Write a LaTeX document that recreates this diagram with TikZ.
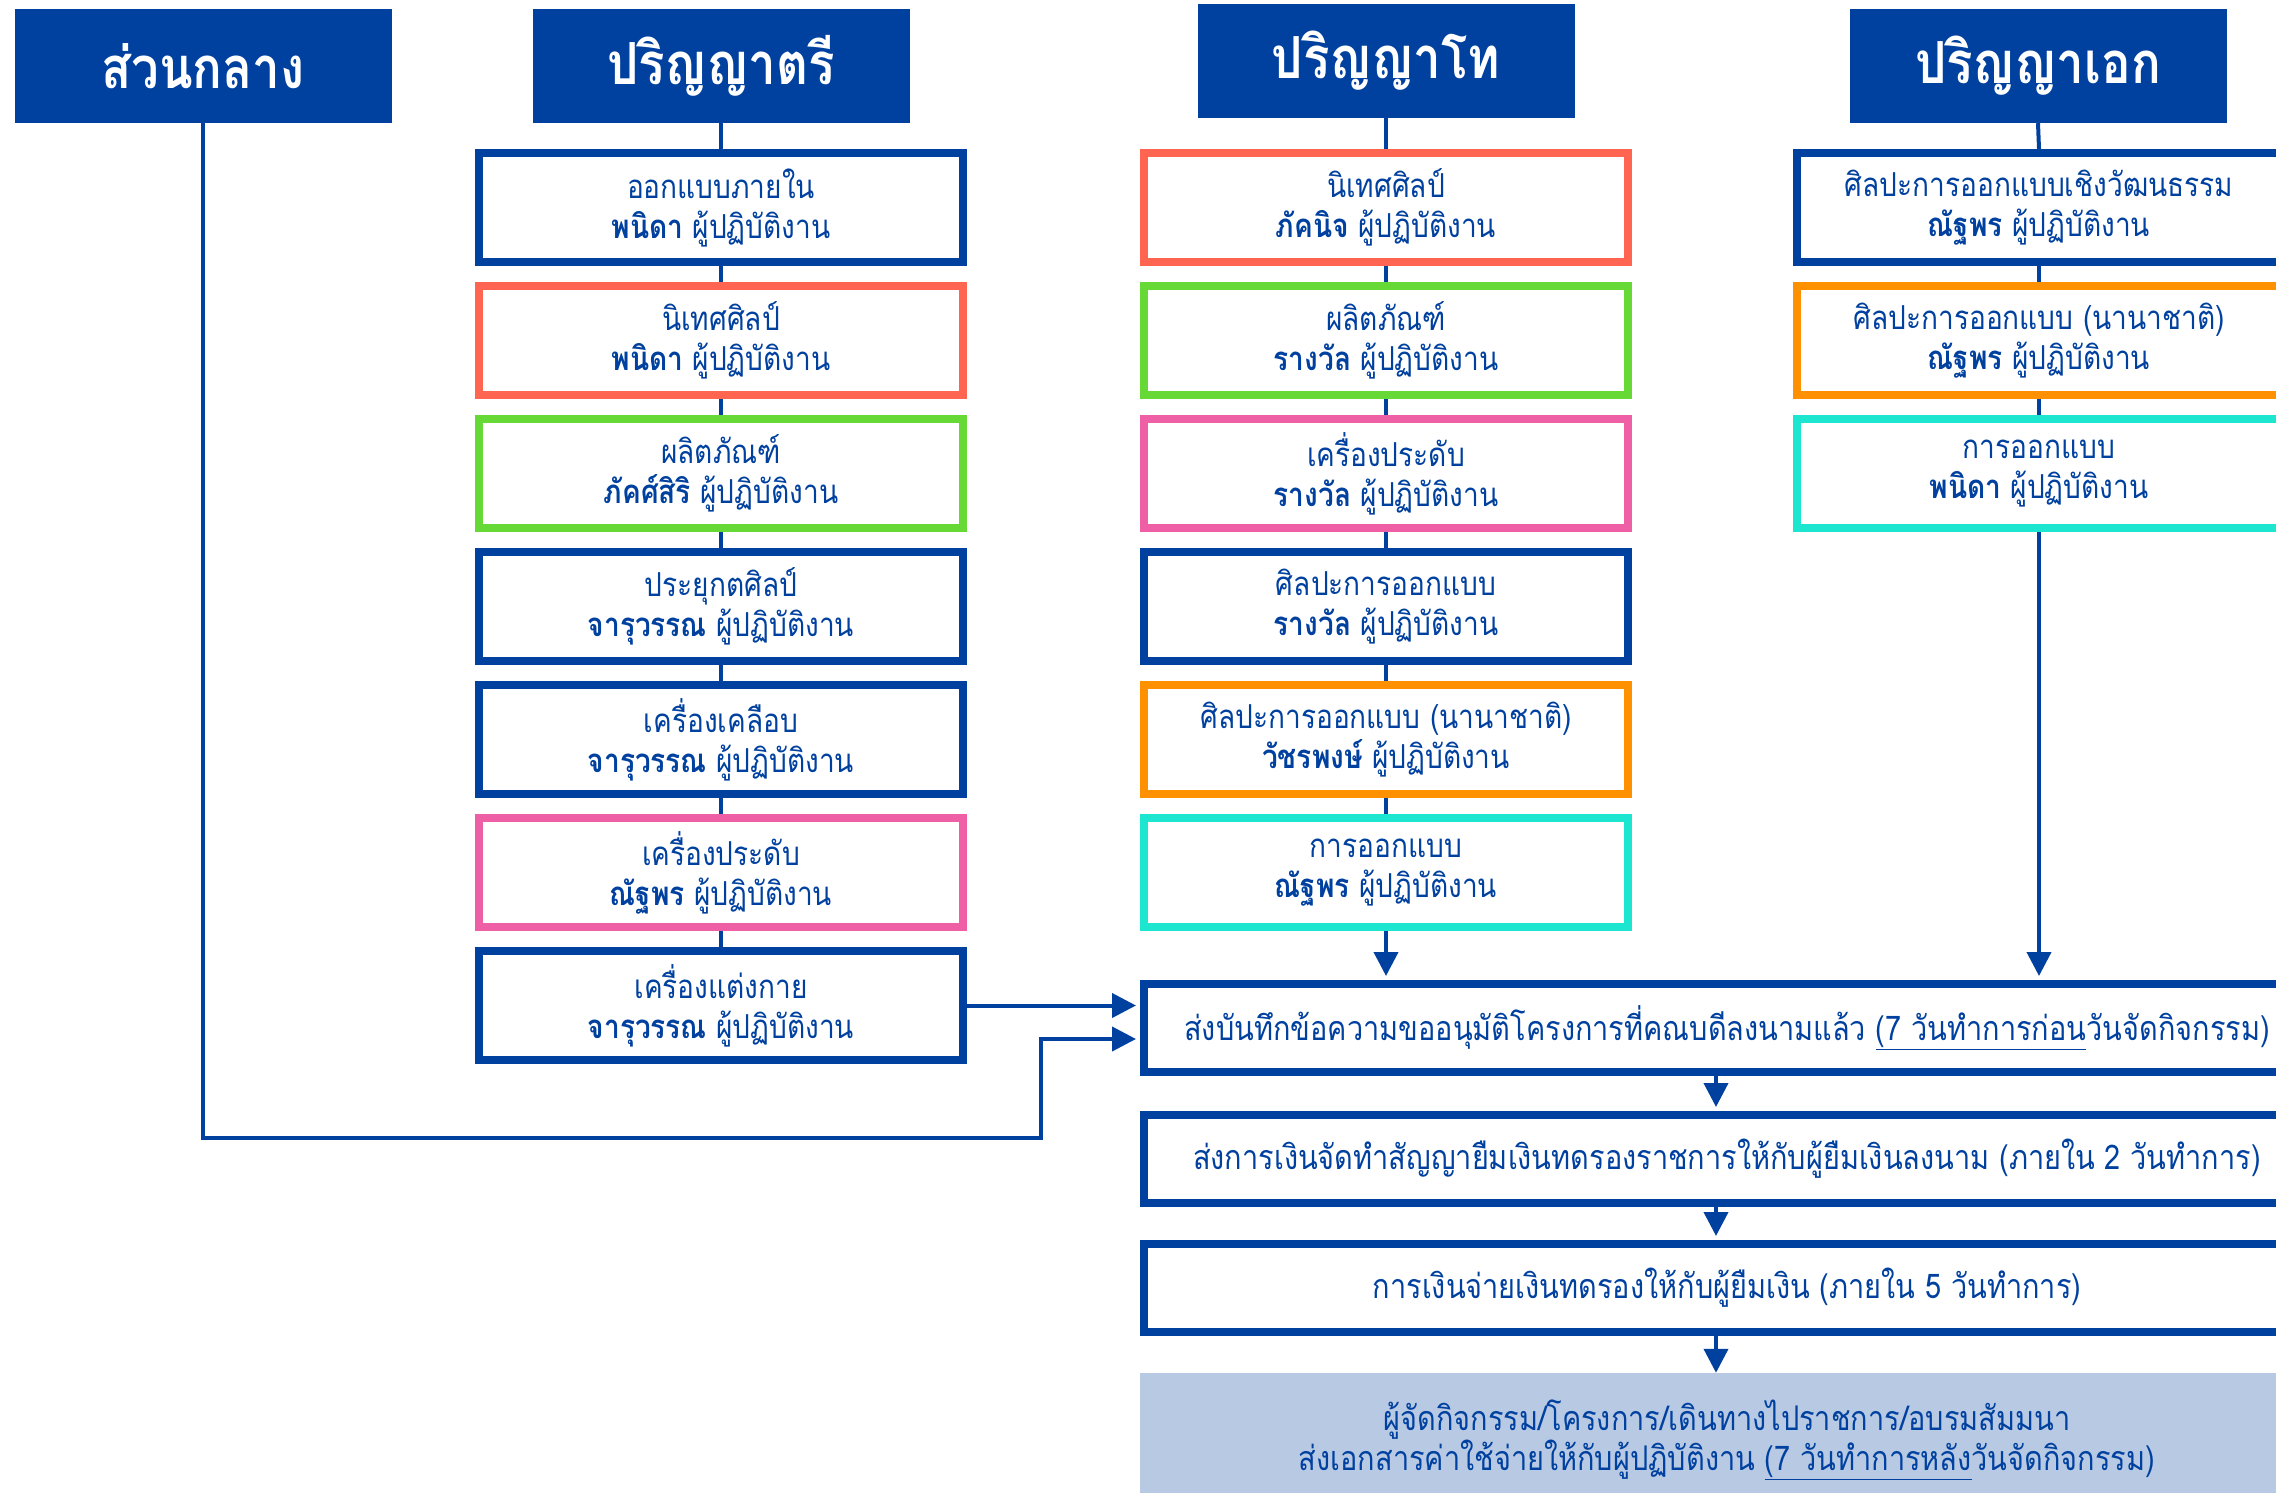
\documentclass[tikz,border=0pt]{standalone}
\usepackage{fontspec}
\setmainfont[Script=Thai,FakeStretch=0.85]{Loma}
\usetikzlibrary{arrows.meta,backgrounds}
\definecolor{navy}{HTML}{0041A0}
\definecolor{coral}{HTML}{FF6550}
\definecolor{lgreen}{HTML}{66D936}
\definecolor{pinkc}{HTML}{EE5FA5}
\definecolor{orangec}{HTML}{FF9100}
\definecolor{cyanc}{HTML}{1CE6D0}
\definecolor{paleblue}{HTML}{B8C9E4}
\tikzset{
  hdr/.style={fill=navy,text=white,minimum width=377pt,minimum height=114pt,inner sep=0pt,
    font=\bfseries\fontsize{58}{64}\selectfont},
  unit/.style={draw=#1,line width=8pt,fill=white,text=navy,minimum width=484pt,minimum height=109pt,
    inner sep=0pt,align=center,font=\fontsize{33}{40}\selectfont},
  proc/.style={draw=navy,line width=8pt,fill=white,text=navy,minimum width=1166pt,minimum height=88pt,
    inner sep=0pt,align=center,font=\fontsize{34}{40}\selectfont},
  final/.style={fill=paleblue,text=navy,minimum width=1174pt,minimum height=134pt,
    inner sep=0pt,align=center,font=\fontsize{34}{40}\selectfont},
  conn/.style={navy,line width=4pt},
  arr/.style={navy,line width=4pt,-{Triangle[length=24pt,width=24pt]}},
}
\begin{document}
\begin{tikzpicture}[x=1pt,y=-1pt]
\clip (0,0) rectangle (2276,1493);
% headers
\node[hdr] (hc) at (203,66) {ส่วนกลาง};
\node[hdr] (ht) at (721,66) {ปริญญาตรี};
\node[hdr] (hm) at (1386,61) {ปริญญาโท};
\node[hdr] (he) at (2038,66) {ปริญญาเอก};
% bachelor column
\node[unit=navy]    (t1) at (721,207.5) {ออกแบบภายใน\\\textbf{พนิดา} ผู้ปฏิบัติงาน};
\node[unit=coral]   (t2) at (721,340.5) {นิเทศศิลป์\\\textbf{พนิดา} ผู้ปฏิบัติงาน};
\node[unit=lgreen]  (t3) at (721,473.5) {ผลิตภัณฑ์\\\textbf{ภัคศ์สิริ} ผู้ปฏิบัติงาน};
\node[unit=navy]    (t4) at (721,606.5) {ประยุกตศิลป์\\\textbf{จารุวรรณ} ผู้ปฏิบัติงาน};
\node[unit=navy]    (t5) at (721,739.5) {เครื่องเคลือบ\\\textbf{จารุวรรณ} ผู้ปฏิบัติงาน};
\node[unit=pinkc]   (t6) at (721,872.5) {เครื่องประดับ\\\textbf{ณัฐพร} ผู้ปฏิบัติงาน};
\node[unit=navy]    (t7) at (721,1005.5) {เครื่องแต่งกาย\\\textbf{จารุวรรณ} ผู้ปฏิบัติงาน};
% master column
\node[unit=coral]   (m1) at (1386,207.5) {นิเทศศิลป์\\\textbf{ภัคนิจ} ผู้ปฏิบัติงาน};
\node[unit=lgreen]  (m2) at (1386,340.5) {ผลิตภัณฑ์\\\textbf{รางวัล} ผู้ปฏิบัติงาน};
\node[unit=pinkc]   (m3) at (1386,473.5) {เครื่องประดับ\\\textbf{รางวัล} ผู้ปฏิบัติงาน};
\node[unit=navy]    (m4) at (1386,606.5) {ศิลปะการออกแบบ\\\textbf{รางวัล} ผู้ปฏิบัติงาน};
\node[unit=orangec] (m5) at (1386,739.5) {ศิลปะการออกแบบ (นานาชาติ)\\\textbf{วัชรพงษ์} ผู้ปฏิบัติงาน};
\node[unit=cyanc]   (m6) at (1386,872.5) {การออกแบบ\\\textbf{ณัฐพร} ผู้ปฏิบัติงาน};
% doctoral column
\node[unit=navy]    (e1) at (2039,207.5) {ศิลปะการออกแบบเชิงวัฒนธรรม\\\textbf{ณัฐพร} ผู้ปฏิบัติงาน};
\node[unit=orangec] (e2) at (2039,340.5) {ศิลปะการออกแบบ (นานาชาติ)\\\textbf{ณัฐพร} ผู้ปฏิบัติงาน};
\node[unit=cyanc]   (e3) at (2039,473.5) {การออกแบบ\\\textbf{พนิดา} ผู้ปฏิบัติงาน};
% process
\node[proc] (pa) at (1727,1028) {ส่งบันทึกข้อความขออนุมัติโครงการที่คณบดีลงนามแล้ว \underline{(7 วันทำการก่อน}วันจัดกิจกรรม)};
\node[proc] (pb) at (1727,1159) {ส่งการเงินจัดทำสัญญายืมเงินทดรองราชการให้กับผู้ยืมเงินลงนาม (ภายใน 2 วันทำการ)};
\node[proc] (pc) at (1727,1288) {การเงินจ่ายเงินทดรองให้กับผู้ยืมเงิน (ภายใน 5 วันทำการ)};
\node[final] (pd) at (1727,1440) {ผู้จัดกิจกรรม/โครงการ/เดินทางไปราชการ/อบรมสัมมนา\\ส่งเอกสารค่าใช้จ่ายให้กับผู้ปฏิบัติงาน \underline{(7 วันทำการหลัง}วันจัดกิจกรรม)};
\coordinate (ax) at (1716,0);
\coordinate (k1) at (1041,1138);
\coordinate (k2) at (1041,1039);
\begin{scope}[on background layer]
\draw[conn] (ht.south) -- (t1.north);
\draw[conn] (t1.south) -- (t2.north);
\draw[conn] (t2.south) -- (t3.north);
\draw[conn] (t3.south) -- (t4.north);
\draw[conn] (t4.south) -- (t5.north);
\draw[conn] (t5.south) -- (t6.north);
\draw[conn] (t6.south) -- (t7.north);
\draw[conn] (hm.south) -- (m1.north);
\draw[conn] (m1.south) -- (m2.north);
\draw[conn] (m2.south) -- (m3.north);
\draw[conn] (m3.south) -- (m4.north);
\draw[conn] (m4.south) -- (m5.north);
\draw[conn] (m5.south) -- (m6.north);
\draw[conn] (he.south) -- (e1.north);
\draw[conn] (e1.south) -- (e2.north);
\draw[conn] (e2.south) -- (e3.north);
\end{scope}
\draw[arr] (m6.south) -- ([yshift=4pt]pa.north -| m6.south);
\draw[arr] (e3.south) -- ([yshift=4pt]pa.north -| e3.south);
\draw[arr] (t7.east) -- ([xshift=-4pt]pa.west |- t7.east);
\draw[arr] (hc.south) |- (k1) -- (k2) -- ([xshift=-4pt]pa.west |- k2);
\draw[arr] (pa.south -| ax) -- ([yshift=4pt]pb.north -| ax);
\draw[arr] (pb.south -| ax) -- ([yshift=4pt]pc.north -| ax);
\draw[arr] (pc.south -| ax) -- (pd.north -| ax);
\end{tikzpicture}
\end{document}
